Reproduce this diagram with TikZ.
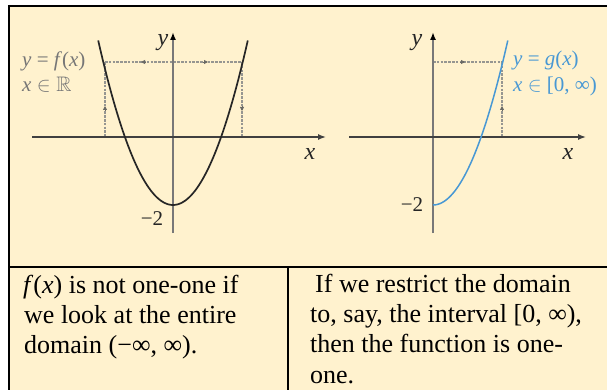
\documentclass[tikz,border=0pt]{standalone}
\usepackage{fontspec}
\usepackage{amssymb}
\setmainfont{Liberation Serif}
\usetikzlibrary{arrows.meta}
\definecolor{cream}{RGB}{255,242,206}
\definecolor{curveblue}{RGB}{72,152,212}
\definecolor{labgray}{RGB}{118,118,118}
\definecolor{axisgray}{RGB}{120,120,120}
\definecolor{dashgray}{RGB}{150,150,145}
\tikzset{
  frameline/.style={line width=2.4pt,black},
  xaxis/.style={line width=1.4pt,black!75,-{Latex[length=8pt,width=6pt]}},
  yaxis/.style={line width=1.6pt,axisgray,-{Latex[length=8pt,width=6pt,black]}},
  dashline/.style={dashgray,line width=1.5pt,dash pattern=on 2.6pt off 1.2pt},
  markarrow/.style={dashgray!70!black,-{Triangle[length=4pt,width=4pt]},line width=0.8pt},
  glabel/.style={font=\fontsize{21}{23}\selectfont,inner sep=0pt},
  axlabel/.style={font=\fontsize{24}{26}\selectfont\itshape,inner sep=0pt,black!85},
  numlabel/.style={font=\fontsize{21}{23}\selectfont,inner sep=0pt,black!85},
  bodytext/.style={font=\fontsize{26}{30}\selectfont,inner sep=0pt,anchor=base west}
}
\begin{document}
\begin{tikzpicture}[x=1pt,y=-1pt]
\useasboundingbox (0,0) rectangle (607,390);
\fill[white] (0,0) rectangle (607,390);
\fill[cream] (9,6) rectangle (607,390);
% frame
\draw[frameline] (9,4.8) -- (9,390);
\draw[frameline] (7.8,6) -- (607,6);
\draw[line width=2pt] (9,267) -- (607,267);
\draw[line width=2pt] (288,267) -- (288,390);

% ---------- left graph ----------
\coordinate (LyB) at (173,233);
\coordinate (LyT) at (173,32);
\coordinate (LxL) at (32,137);
\coordinate (LxR) at (326,137);
\draw[dashline] (105,62) -- (242,62);
\draw[dashline] (105,62) -- (105,137);
\draw[dashline] (242,62) -- (242,137);
\draw[markarrow] (146,62) -- (141,62);
\draw[markarrow] (203,62) -- (208,62);
\draw[markarrow] (105,111) -- (105,106);
\draw[markarrow] (242,106) -- (242,111);
\draw[yaxis] (LyB) -- (LyT);
\draw[xaxis] (LxL) -- (LxR);
\draw[line width=1.7pt,black!85] plot[domain=-2.2:2.2,samples=80,smooth] ({173+34*\x},{137-34*(\x*\x-2)});
\node[axlabel] (Ly) at (163,43) {y};
\node[axlabel] (Lx) at (310,154) {x};
\node[numlabel] (Lm2) at (152,219) {−2};
\node[glabel,labgray,anchor=west] (Lf) at (22,61) {\textit{y} = \textit{f}(\textit{x})};
\node[glabel,labgray,anchor=west] (Ld) at (22,85) {\textit{x} $\in\mathbb{R}$};

% ---------- right graph ----------
\coordinate (RyB) at (433,233);
\coordinate (RyT) at (433,32);
\coordinate (RxL) at (349,137);
\coordinate (RxR) at (586,137);
\draw[dashline] (433,62) -- (502,62);
\draw[dashline] (502,62) -- (502,137);
\draw[markarrow] (460,62) -- (465,62);
\draw[markarrow] (502,111) -- (502,106);
\draw[yaxis] (RyB) -- (RyT);
\draw[xaxis] (RxL) -- (RxR);
\draw[line width=1.5pt,curveblue] plot[domain=0:2.2,samples=60,smooth] ({433+34*\x},{137-34*(\x*\x-2)});
\node[axlabel] (Ry) at (417,43) {y};
\node[axlabel] (Rx) at (568,154) {x};
\node[numlabel] (Rm2) at (412,205) {−2};
\node[glabel,curveblue,anchor=west] (Rg) at (513,60) {\textit{y} = \textit{g}(\textit{x})};
\node[glabel,curveblue,anchor=west] (Rd) at (513,86) {\textit{x} $\in$ [0, ∞)};

% ---------- text row ----------
\node[bodytext] (t1) at (23,293) {\textit{f}(\textit{x}) is not one-one if};
\node[bodytext] (t2) at (24,323) {we look at the entire};
\node[bodytext] (t3) at (24,353) {domain (−∞, ∞).};
\node[bodytext] (u1) at (315,292) {If we restrict the domain};
\node[bodytext] (u2) at (310,322) {to, say, the interval [0, ∞),};
\node[bodytext] (u3) at (310,352) {then the function is one-};
\node[bodytext] (u4) at (310,383) {one.};
\end{tikzpicture}
\end{document}
